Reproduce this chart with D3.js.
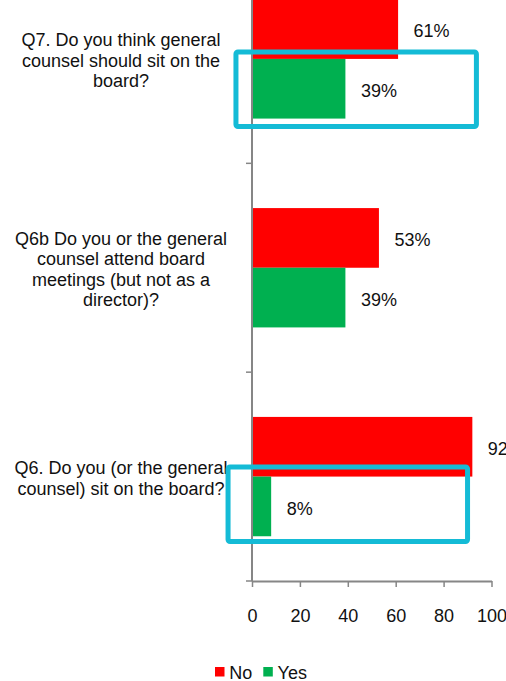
<!DOCTYPE html>
<html>
<head>
<meta charset="utf-8">
<script src="https://cdn.jsdelivr.net/npm/d3@7"></script>
<style>
  html, body { margin: 0; padding: 0; background: #fff; }
  svg { display: block; font-family: "Liberation Sans", Arial, sans-serif; }
</style>
</head>
<body>
<svg id="chart" width="506" height="681"></svg>
<script>
// Survey questions (top to bottom) and their wrapped labels
const categories = ["Q7", "Q6b", "Q6"];
const categoryLabels = [
  ["Q7. Do you think general", "counsel should sit on the", "board?"],
  ["Q6b Do you or the general", "counsel attend board", "meetings (but not as a", "director)?"],
  ["Q6. Do you (or the general", "counsel) sit on the board?"]
];
const seriesNames = ["No", "Yes"];
const noValues = [61, 53, 92];
const yesValues = [39, 39, 8];
const xTicks = [0, 20, 40, 60, 80, 100];

const seriesColors = { No: "#FF0000", Yes: "#00B050" };
const textColor = "#111";
const axisColor = "#868686";

// Highlight frames drawn around selected bars (x extent in value units, padding in px)
const highlightBoxes = [
  { category: "Q7", series: "Yes", from: -6.7, to: 93.7, padTop: 7, padBottom: 8 },
  { category: "Q6", series: "Yes", from: -10, to: 90, padTop: 9.6, padBottom: 5.2 }
];

const svg = d3.select("#chart");

const x = d3.scaleLinear().domain([0, 100]).range([252, 491.5]);
const y = d3.scaleBand().domain(categories).range([-45.5, 581]).padding(0);
const inner = d3.scaleBand().domain(seriesNames).range([0, y.bandwidth()])
  .paddingInner(0).paddingOuter(0.75);

const rows = categories.map((c, i) => ({
  category: c,
  lines: categoryLabels[i],
  values: { No: noValues[i], Yes: yesValues[i] }
}));

// Bars
const groups = svg.append("g").selectAll("g").data(rows).join("g")
  .attr("transform", d => `translate(0,${y(d.category)})`);

groups.selectAll("rect")
  .data(d => seriesNames.map(s => ({ series: s, value: d.values[s] })))
  .join("rect")
  .attr("x", x(0))
  .attr("y", d => inner(d.series))
  .attr("width", d => x(d.value) - x(0))
  .attr("height", inner.bandwidth())
  .attr("fill", d => seriesColors[d.series]);

// Value labels
groups.selectAll("text.value")
  .data(d => seriesNames.map(s => ({ series: s, value: d.values[s] })))
  .join("text")
  .attr("class", "value")
  .attr("x", d => x(d.value) + 15.5)
  .attr("y", d => inner(d.series) + inner.bandwidth() / 2 + 2)
  .attr("dy", "0.35em")
  .attr("font-size", 18)
  .attr("fill", textColor)
  .text(d => d.value + "%");

// Category labels, centred in the left margin
const lineH = 20.6;
svg.append("g").selectAll("text").data(rows).join("text")
  .attr("text-anchor", "middle")
  .attr("font-size", 18)
  .attr("fill", textColor)
  .each(function (d) {
    const cy = y(d.category) + y.bandwidth() / 2 + 1.5;
    const top = cy - (d.lines.length - 1) * lineH / 2;
    d3.select(this).selectAll("tspan").data(d.lines).join("tspan")
      .attr("x", 121)
      .attr("y", (l, j) => top + j * lineH)
      .attr("dy", "0.35em")
      .text(l => l);
  });

// Vertical category axis with ticks on band boundaries
const yAxis = svg.append("g");
yAxis.append("line")
  .attr("x1", x(0)).attr("x2", x(0))
  .attr("y1", y.range()[0]).attr("y2", y.range()[1])
  .attr("stroke", axisColor).attr("stroke-width", 2);
const boundaries = categories.map(c => y(c)).concat([y.range()[1]]);
yAxis.selectAll("line.tick").data(boundaries).join("line")
  .attr("class", "tick")
  .attr("x1", x(0) - 6).attr("x2", x(0))
  .attr("y1", d => d).attr("y2", d => d)
  .attr("stroke", axisColor).attr("stroke-width", 1.5);

// Value axis
const xAxis = svg.append("g")
  .attr("transform", `translate(0,${y.range()[1]})`)
  .call(d3.axisBottom(x).tickValues(xTicks).tickSize(6).tickSizeOuter(0).tickPadding(22.5));
xAxis.select(".domain").attr("stroke", axisColor).attr("stroke-width", 2);
xAxis.selectAll(".tick line").attr("stroke", axisColor).attr("stroke-width", 1.5);
xAxis.selectAll(".tick text")
  .attr("font-size", 18)
  .attr("font-family", "'Liberation Sans', Arial, sans-serif")
  .attr("fill", textColor);

// Highlight frames
svg.append("g").selectAll("rect").data(highlightBoxes).join("rect")
  .attr("x", d => x(d.from))
  .attr("y", d => y(d.category) + inner(d.series) - d.padTop)
  .attr("width", d => x(d.to) - x(d.from))
  .attr("height", d => inner.bandwidth() + d.padTop + d.padBottom)
  .attr("rx", 2)
  .attr("fill", "none")
  .attr("stroke", "#14BBD6")
  .attr("stroke-width", 5);

// Legend
const legend = svg.append("g").selectAll("g").data(seriesNames).join("g")
  .attr("transform", (d, i) => `translate(${215 + i * 48.3},0)`);
legend.append("rect")
  .attr("x", 0).attr("y", 667)
  .attr("width", 9.5).attr("height", 9.5)
  .attr("fill", d => seriesColors[d]);
legend.append("text")
  .attr("x", 14.3).attr("y", 678.5)
  .attr("font-size", 18)
  .attr("fill", textColor)
  .text(d => d);
</script>
</body>
</html>
